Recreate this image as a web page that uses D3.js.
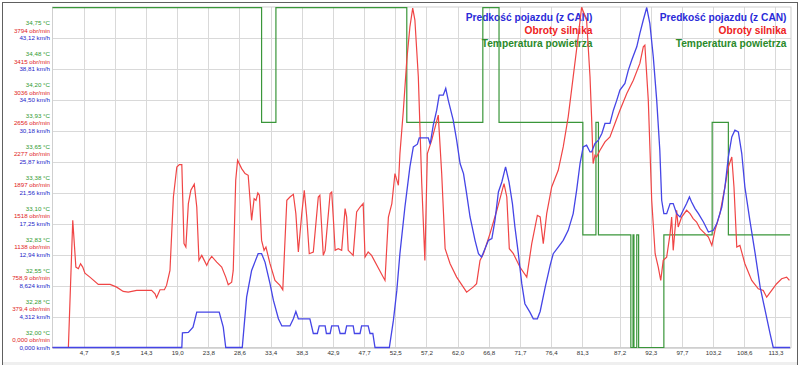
<!DOCTYPE html>
<html>
<head>
<meta charset="utf-8">
<script src="https://cdn.jsdelivr.net/npm/d3@7"></script>
<style>
  body { margin: 0; background: #fff; }
  svg { display: block; font-family: "Liberation Sans", Arial, sans-serif; }
</style>
</head>
<body>
<svg id="chart" width="800" height="365"></svg>
<script>
// x is the sample position (10 units per grid column), labels carry the time
const tickPos = [10, 20, 30, 40, 50, 60, 70, 80, 90, 100, 110, 120, 130, 140, 150, 160, 170, 182, 192, 202, 212, 222, 232]
const tickLabels = ["4,7", "9,5", "14,3", "19,0", "23,8", "28,6", "33,4", "38,3", "42,9", "47,7", "52,5", "57,2",
  "62,0", "66,8", "71,7", "76,4", "81,3", "87,2", "92,3", "97,7", "103,2", "108,6", "113,3"]

const tempTicks = [32.00, 32.275, 32.55, 32.825, 33.10, 33.375, 33.65, 33.925, 34.20, 34.475, 34.75]
const tempLabels = ["32,00 °C", "32,28 °C", "32,55 °C", "32,83 °C", "33,10 °C", "33,38 °C", "33,65 °C", "33,93 °C", "34,20 °C", "34,48 °C", "34,75 °C"]
const rpmTicks = [0, 379.44, 758.9, 1138.3, 1517.8, 1897.2, 2276.6, 2656.1, 3035.5, 3415, 3794.4]
const rpmLabels = ["0,000 obr/min", "379,4 obr/min", "758,9 obr/min", "1138 obr/min", "1518 obr/min", "1897 obr/min",
  "2277 obr/min", "2656 obr/min", "3036 obr/min", "3415 obr/min", "3794 obr/min"]
const speedTicks = [0, 4.312, 8.624, 12.94, 17.25, 21.56, 25.87, 30.18, 34.50, 38.81, 43.12]
const speedLabels = ["0,000 km/h", "4,312 km/h", "8,624 km/h", "12,94 km/h", "17,25 km/h", "21,56 km/h",
  "25,87 km/h", "30,18 km/h", "34,50 km/h", "38,81 km/h", "43,12 km/h"]

// Predkość pojazdu (z CAN), km/h
const speed = [
  [0, 0], [41.5, 0], [41.7, 2.05], [43.6, 2.1], [45.1, 2.83], [46.3, 4.92], [53.5, 4.92], [54.8, 2.83], [55.6, 0],
  [60.9, 0], [62.3, 7.02], [63.9, 10.74], [66.0, 13.07], [67.1, 13.07], [68.2, 11.9], [69.8, 8.89], [70.9, 6.56],
  [72.5, 4.0], [73.6, 3.0], [76.2, 3.0], [77.3, 4.0], [78.1, 5.02], [78.9, 4.0], [82.6, 4.0], [83.7, 1.95],
  [85.0, 1.95], [85.6, 3.0], [87.5, 3.0], [87.9, 1.95], [89.1, 1.95], [89.6, 3.0], [91.7, 3.0], [92.3, 1.95],
  [93.9, 1.95], [94.4, 3.0], [96.5, 3.0], [96.9, 1.95], [98.7, 1.95], [99.2, 3.0], [101.3, 3.0], [101.9, 1.95],
  [102.8, 1.95], [103.5, 0], [108.1, 0], [109.4, 3.77], [110.5, 7.95], [111.5, 13.11], [113.1, 19.57],
  [114.7, 25.15], [115.8, 27.94], [117.1, 28.32], [117.7, 29.2], [120.6, 29.2], [121.2, 28.32], [122.2, 30.97],
  [123.3, 33.06], [124.1, 35.15], [125.4, 35.15], [126.2, 36.09], [127.0, 34.46], [128.6, 31.67], [129.7, 28.88],
  [130.8, 25.63], [131.9, 24.23], [132.9, 21.44], [134.0, 18.18], [135.6, 14.93], [136.7, 13.07], [137.7, 12.6],
  [138.8, 13.77], [139.9, 14.93], [141.0, 15.16], [142.0, 17.72], [143.1, 21.66], [144.2, 23.06], [145.4, 25.15],
  [146.5, 23.06], [147.6, 20.05], [148.4, 16.78], [149.5, 13.07], [150.6, 8.89], [151.6, 6.1], [153.2, 4.92],
  [154.3, 4.0], [155.6, 4.0], [156.5, 5.02], [158.1, 8.37], [159.7, 11.44], [160.7, 13.07], [162.3, 13.99],
  [163.9, 14.93], [165.5, 16.32], [167.1, 18.65], [168.2, 21.9], [169.3, 25.63], [170.3, 27.94], [171.4, 28.18],
  [172.5, 27.24], [173.0, 27.24], [174.1, 28.42], [175.2, 28.88], [176.3, 29.81], [177.3, 31.21], [178.9, 31.21],
  [180.0, 33.06], [181.1, 34.46], [182.1, 35.85], [183.7, 36.79], [184.8, 38.64], [185.9, 40.04], [187.5, 41.89],
  [188.5, 43.76], [189.6, 45.62], [190.7, 47.36], [191.7, 45.16], [192.8, 40.5], [193.9, 34.46], [194.9, 27.48],
  [195.5, 20.51], [196.2, 18.65], [197.1, 18.65], [198.2, 20.05], [199.2, 20.05], [200.3, 18.65], [201.4, 18.18],
  [202.4, 19.11], [203.5, 20.05], [204.4, 20.97], [205.1, 20.27], [206.2, 19.35], [207.3, 18.65], [208.9, 17.48],
  [210.5, 16.08], [212.1, 16.32], [213.2, 17.26], [214.8, 19.57], [215.8, 22.36], [216.9, 26.55], [218.0, 29.34],
  [219.0, 30.27], [220.1, 30.03], [221.2, 27.02], [222.2, 22.36], [223.8, 17.72], [225.5, 13.07], [227.1, 8.41],
  [228.7, 5.16], [230.3, 1.91], [231.3, 0], [236.7, 0]
]

// Obroty silnika, obr/min
const rpm = [
  [0, 0], [5.1, 0], [6.5, 1559], [7.5, 986], [8.3, 966], [9.0, 1027], [9.7, 986], [10.4, 912], [12.0, 863],
  [14.7, 773], [18.5, 773], [20.6, 740], [22.7, 687], [24.3, 679], [27.0, 700], [31.8, 700], [32.9, 659],
  [33.4, 610], [34.5, 708], [35.9, 708], [36.6, 761], [37.7, 945], [38.8, 1845], [39.9, 2213], [40.7, 2242],
  [41.5, 2242], [42.2, 1273], [42.8, 1231], [43.6, 1764], [44.4, 1927], [45.5, 2001], [46.3, 1722], [47.0, 1068],
  [47.9, 1129], [48.7, 1068], [49.5, 1006], [50.2, 1068], [51.1, 1117], [52.7, 1047], [54.3, 986], [55.6, 863],
  [56.4, 770], [57.5, 801], [58.0, 945], [58.8, 2050], [59.4, 2295], [60.7, 2193], [61.8, 2132], [62.8, 2111],
  [63.9, 1559], [64.7, 1825], [65.3, 1804], [65.9, 1894], [66.4, 1866], [67.1, 1313], [67.9, 1191], [68.5, 1231],
  [69.8, 1027], [71.4, 822], [73.0, 761], [73.9, 708], [75.2, 1804], [76.2, 1845], [77.3, 1878], [78.1, 1641],
  [78.9, 1170], [80.0, 1641], [80.8, 1927], [81.6, 1599], [82.4, 1150], [83.7, 1170], [85.3, 1845], [85.8, 1866],
  [86.9, 1129], [87.5, 1191], [89.1, 1887], [89.6, 1906], [90.1, 1599], [90.7, 1191], [91.7, 1211], [92.8, 1191],
  [93.9, 1702], [94.4, 1599], [94.9, 1191], [96.5, 1129], [97.6, 1661], [98.7, 1722], [99.7, 1764], [100.3, 1108],
  [101.3, 1170], [102.4, 1129], [106.7, 822], [107.8, 1599], [108.9, 1764], [109.9, 2132], [111.0, 1988],
  [111.5, 2377], [112.6, 2909], [113.7, 3523], [114.7, 3931], [115.6, 4160], [116.3, 4014], [117.4, 3318],
  [118.5, 2009], [119.5, 1068], [120.3, 2377], [121.7, 2541], [123.8, 2848], [124.9, 2132], [126.0, 1211],
  [127.6, 1027], [129.7, 863], [132.9, 679], [135.0, 740], [136.1, 782], [137.2, 1068], [138.3, 1150],
  [140.4, 1396], [142.6, 1682], [144.9, 2009], [145.8, 1845], [146.6, 1211], [147.9, 1150], [150.0, 986],
  [152.2, 863], [153.8, 1273], [155.6, 1620], [156.5, 1600], [157.5, 1273], [158.6, 1641], [160.2, 1968],
  [162.3, 2172], [163.9, 2459], [165.5, 2827], [167.1, 3318], [168.7, 3809], [169.8, 4170], [171.4, 4014],
  [172.5, 3318], [173.0, 2827], [173.5, 2255], [174.1, 2357], [174.6, 2336], [175.7, 2418], [177.3, 2520],
  [178.9, 2581], [180.5, 2746], [182.1, 2909], [184.3, 3114], [186.4, 3277], [188.5, 3482], [189.6, 3686],
  [190.1, 3707], [191.2, 3032], [192.3, 1804], [193.4, 1150], [194.4, 986], [195.2, 822], [196.0, 1068],
  [197.1, 1108], [198.2, 1396], [198.7, 1599], [199.2, 1191], [200.3, 1682], [200.8, 1477], [201.9, 1599],
  [203.5, 1682], [204.6, 1641], [205.6, 1580], [206.7, 1538], [207.8, 1457], [209.4, 1396], [210.5, 1354],
  [211.6, 1252], [212.6, 1436], [214.2, 1641], [215.8, 1968], [216.9, 2213], [218.0, 2336], [218.7, 1968],
  [219.6, 1231], [220.6, 1252], [222.2, 1027], [224.4, 822], [226.5, 720], [228.1, 700], [229.2, 617],
  [230.8, 700], [232.4, 782], [234.0, 843], [235.6, 863], [236.5, 822]
]

// Temperatura powietrza, °C (step values)
const temp = [
  [0, 35.02], [67.1, 34.0], [71.7, 35.02], [113.7, 34.0], [138.1, 35.02], [143.3, 34.0], [170.2, 33.0],
  [174.4, 34.0], [175.2, 33.0], [185.6, 32.0], [186.3, 33.0], [186.6, 32.0], [187.5, 33.0], [188.1, 32.0],
  [196.2, 33.0], [211.7, 34.0], [216.9, 33.0], [236.7, 33.0]
]

const svg = d3.select("#chart")
const plotLeft = 52.5, plotRight = 791, plotTop = 7, plotBottom = 347.5

const x = d3.scaleLinear().domain([0, 237]).range([plotLeft, plotRight])
const ySpeed = d3.scaleLinear().domain([0, 47.432]).range([plotBottom, plotTop])
const yRpm = d3.scaleLinear().domain([0, 4173.8]).range([plotBottom, plotTop])
const yTemp = d3.scaleLinear().domain([32, 35.025]).range([plotBottom, plotTop])

const blue = "#4545e6", red = "#f04545", green = "#3a963a"

// outer window frame
svg.append("rect").attr("x", 3).attr("y", 362).attr("width", 794).attr("height", 3).attr("fill", "#efefef")
svg.append("rect").attr("x", 2.5).attr("y", 2.5).attr("width", 795).attr("height", 370)
  .attr("fill", "none").attr("stroke", "#606060")

// grid
const grid = svg.append("g").attr("stroke", "#d9d9d9").attr("stroke-width", 1)
grid.selectAll(".h").data(speedTicks).join("line")
  .attr("x1", plotLeft).attr("x2", plotRight)
  .attr("y1", (d) => Math.round(ySpeed(d)) + 0.5).attr("y2", (d) => Math.round(ySpeed(d)) + 0.5)
grid.selectAll(".v").data(tickPos).join("line")
  .attr("y1", plotTop).attr("y2", plotBottom)
  .attr("x1", (d) => Math.round(x(d)) + 0.5).attr("x2", (d) => Math.round(x(d)) + 0.5)
svg.append("rect").attr("x", plotLeft).attr("y", plotTop).attr("width", plotRight - plotLeft).attr("height", plotBottom - plotTop)
  .attr("fill", "none").attr("stroke", "#cfcfcf")

// y labels, three units per grid line
const ylab = svg.append("g").attr("font-size", 6.2).attr("text-anchor", "end")
ylab.selectAll(".t").data(tempTicks).join("text")
  .attr("x", 50).attr("y", (d) => yTemp(d) - 15).attr("dy", "0.35em").attr("fill", "#2f9a2f")
  .text((d, i) => tempLabels[i])
ylab.selectAll(".r").data(rpmTicks).join("text")
  .attr("x", 50).attr("y", (d) => yRpm(d) - 7.5).attr("dy", "0.35em").attr("fill", "#e02222")
  .text((d, i) => rpmLabels[i])
ylab.selectAll(".s").data(speedTicks).join("text")
  .attr("x", 50).attr("y", (d) => ySpeed(d)).attr("dy", "0.35em").attr("fill", "#2525c8")
  .text((d, i) => speedLabels[i])

// x axis
const xAxis = svg.append("g")
  .attr("transform", "translate(0," + plotBottom + ")")
  .call(d3.axisBottom(x).tickValues(tickPos).tickFormat((d, i) => tickLabels[i]).tickSize(0).tickPadding(3))
xAxis.select(".domain").remove()
xAxis.selectAll("text").attr("font-size", 6.2).attr("fill", "#333")
  .attr("font-family", "'Liberation Sans', Arial, sans-serif")

// legends (drawn twice, like the original)
const legend = [
  { name: "Predkość pojazdu (z CAN)", color: "#2a2ad8" },
  { name: "Obroty silnika", color: "#ee2222" },
  { name: "Temperatura powietrza", color: "#2a8a2a" }
]
;[592.5, 786.5].forEach((lx) => {
  svg.append("g").attr("font-size", 10.2).attr("font-weight", "bold").attr("text-anchor", "end")
    .selectAll("text").data(legend).join("text")
    .attr("x", lx).attr("y", (d, i) => 21 + i * 13)
    .attr("fill", (d) => d.color)
    .text((d) => d.name)
})

// series
svg.append("path").datum(temp)
  .attr("fill", "none").attr("stroke", green).attr("stroke-width", 1.2)
  .attr("d", d3.line().curve(d3.curveStepAfter).x((d) => x(d[0])).y((d) => yTemp(d[1])))
svg.append("path").datum(rpm)
  .attr("fill", "none").attr("stroke", red).attr("stroke-width", 1.2)
  .attr("d", d3.line().x((d) => x(d[0])).y((d) => yRpm(d[1])))
svg.append("path").datum(speed)
  .attr("fill", "none").attr("stroke", blue).attr("stroke-width", 1.3)
  .attr("d", d3.line().x((d) => x(d[0])).y((d) => ySpeed(d[1])))
</script>
</body>
</html>
